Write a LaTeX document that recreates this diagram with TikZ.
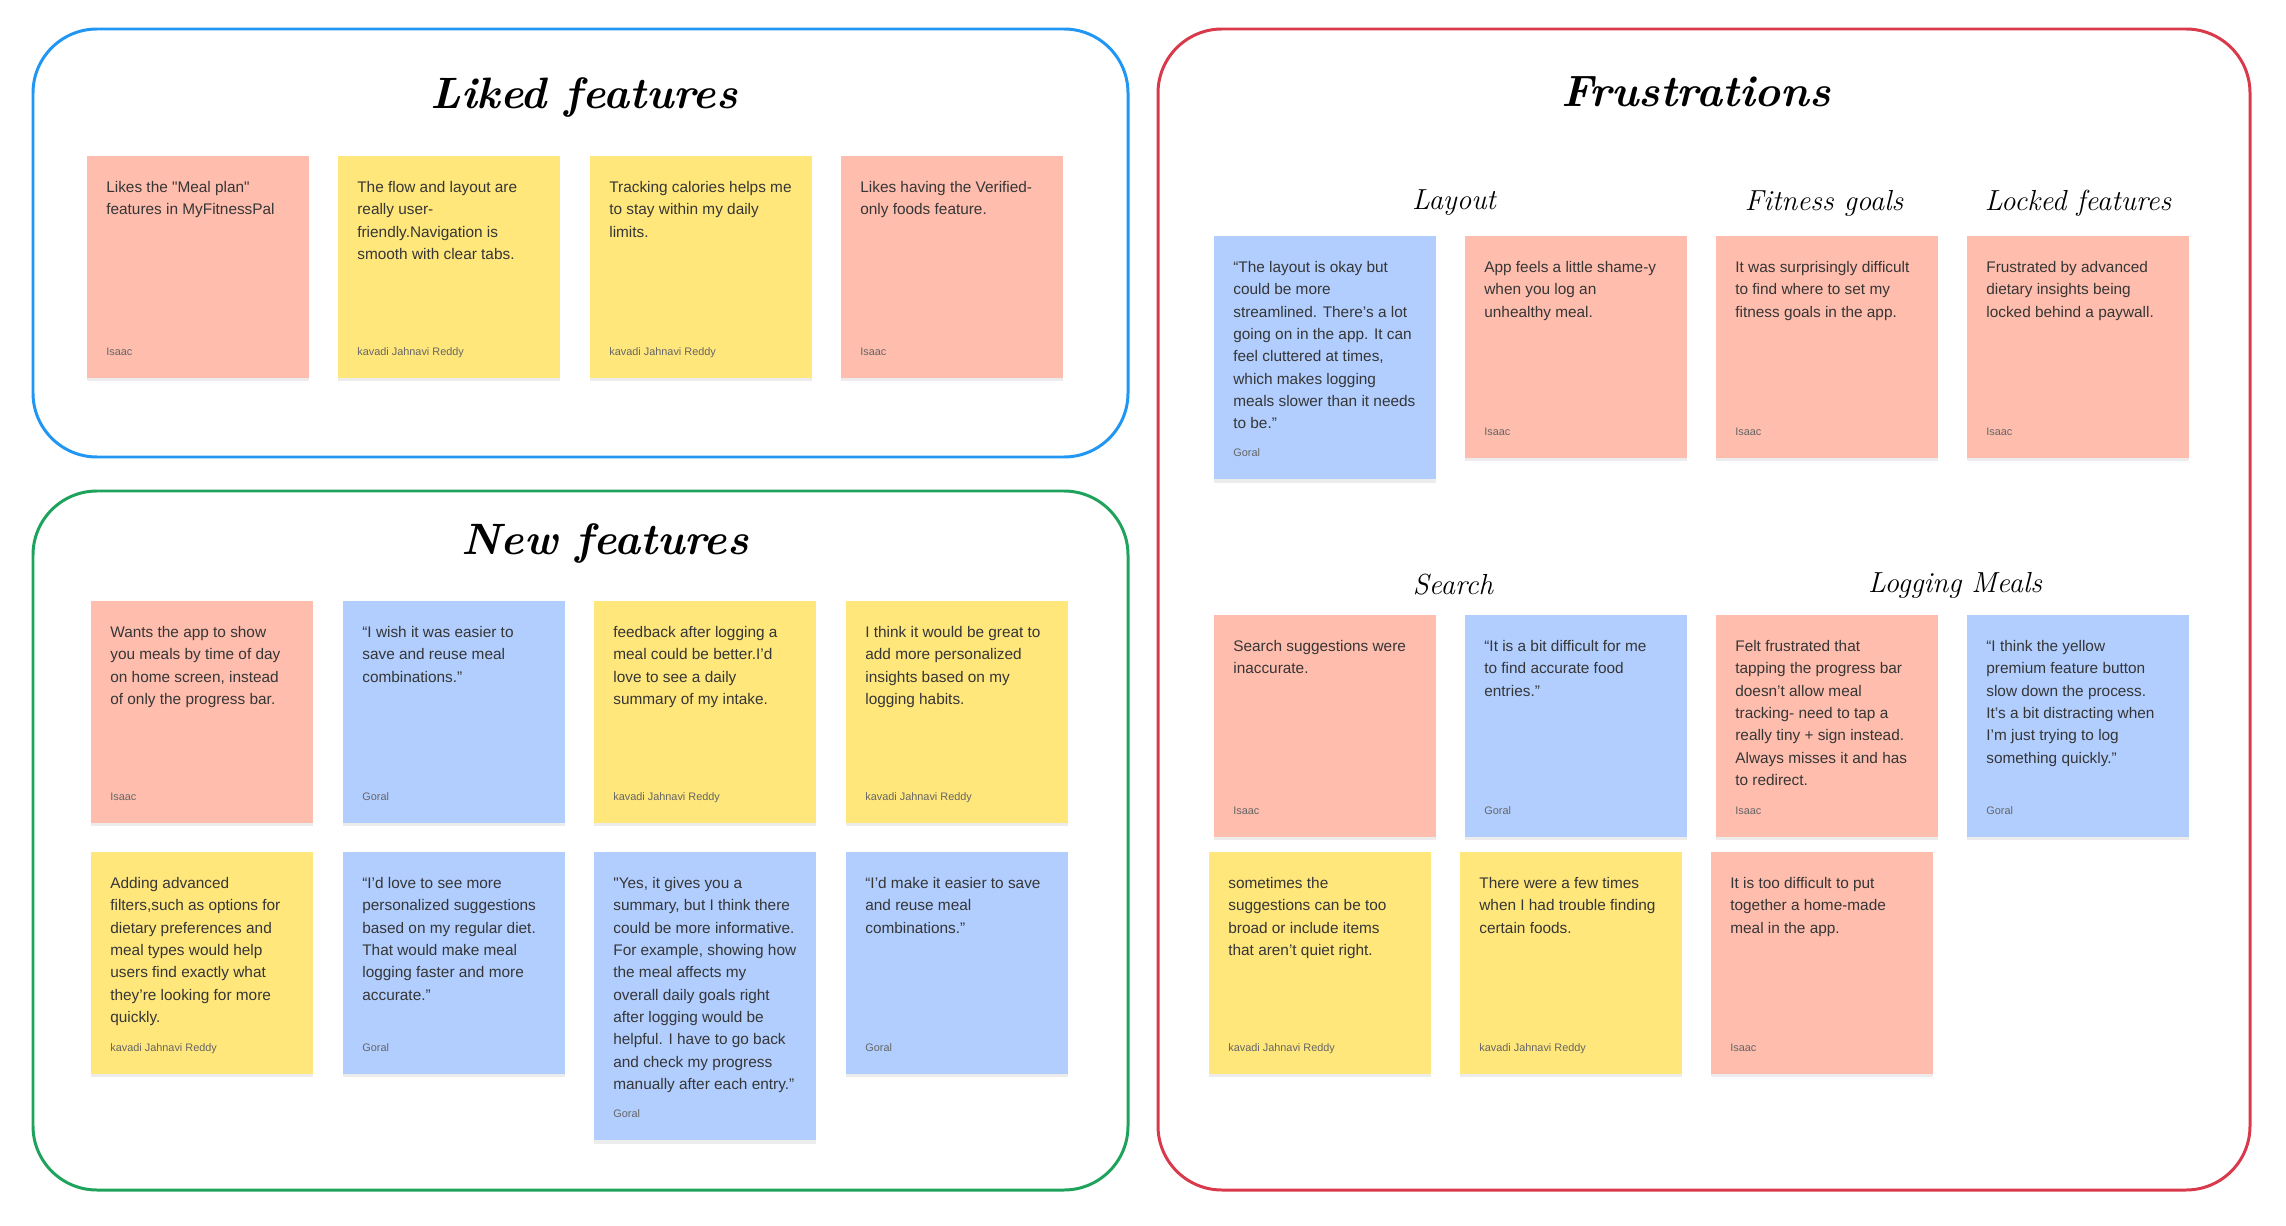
\documentclass[tikz,border=0pt]{standalone}
\usepackage{fontspec}
\newfontfamily\notefont{Liberation Sans}
\usetikzlibrary{calc}
\usetikzlibrary{shadows}
\definecolor{salmon}{HTML}{FFBDAD}
\definecolor{lemon}{HTML}{FFE77C}
\definecolor{sky}{HTML}{B1CEFF}
\definecolor{likedblue}{HTML}{2196F3}
\definecolor{newgreen}{HTML}{1FA35C}
\definecolor{frustred}{HTML}{D93A4B}
\definecolor{inkgrey}{HTML}{363636}
\tikzset{
	boardstyle/.style={rounded corners=1.28cm,line width=1.7pt},
	notestyle/.style={rectangle,anchor=north west,minimum width=4.44cm,minimum height=4.43cm,inner sep=0pt,drop shadow={shadow xshift=0pt,shadow yshift=-2pt,opacity=0.15}},
	textstyle/.style={anchor=north west,inner sep=0pt,align=left,text=inkgrey,font=\notefont\fontsize{8.75}{12.7}\selectfont},
	namestyle/.style={anchor=base west,inner sep=0pt,text=black!60,font=\notefont\fontsize{6.2}{7}\selectfont},
	titlestyle/.style={font=\fontsize{25}{30}\selectfont\bfseries\itshape},
	subtitlestyle/.style={font=\fontsize{16.5}{20}\selectfont\itshape}
}

\begin{document}
\begin{tikzpicture}[x=0.02cm,y=-0.02cm]
	\useasboundingbox (0,0) rectangle (2286,1226);
	% boards
	\draw[boardstyle,draw=likedblue] (33,29) rectangle (1128,457);
	\draw[boardstyle,draw=newgreen] (33,491) rectangle (1128,1190);
	\draw[boardstyle,draw=frustred] (1158,29) rectangle (2250,1190);
	\node[titlestyle] (liked) at (584,98) {Liked features};
	\node[titlestyle] (new) at (605,544) {New features};
	\node[titlestyle] (frust) at (1696,92) {Frustrations};
	\node[subtitlestyle] (layout) at (1454,203) {Layout};
	\node[subtitlestyle] (fitness) at (1824,203) {Fitness goals};
	\node[subtitlestyle] (locked) at (2078,203) {Locked features};
	\node[subtitlestyle] (search) at (1453,585) {Search};
	\node[subtitlestyle] (logging) at (1955,585) {Logging Meals};
	% liked features
	\node[notestyle,fill=salmon] (lk1) at (87,156) {};
	\node[notestyle,fill=lemon] (lk2) at (338,156) {};
	\node[notestyle,fill=lemon] (lk3) at (590,156) {};
	\node[notestyle,fill=salmon] (lk4) at (841,156) {};
	\node[textstyle] (lk1t) at ([shift={(19,25)}]lk1.north west) {Likes the "Meal plan"\\features in MyFitnessPal};
	\node[textstyle] (lk2t) at ([shift={(19,25)}]lk2.north west) {The flow and layout are\\really user-\\friendly.Navigation is\\smooth with clear tabs.};
	\node[textstyle] (lk3t) at ([shift={(19,25)}]lk3.north west) {Tracking calories helps me\\to stay within my daily\\limits.};
	\node[textstyle] (lk4t) at ([shift={(19,25)}]lk4.north west) {Likes having the Verified-\\only foods feature.};
	\node[namestyle] (lk1a) at ([shift={(19,-23)}]lk1.south west) {Isaac};
	\node[namestyle] (lk2a) at ([shift={(19,-23)}]lk2.south west) {kavadi Jahnavi Reddy};
	\node[namestyle] (lk3a) at ([shift={(19,-23)}]lk3.south west) {kavadi Jahnavi Reddy};
	\node[namestyle] (lk4a) at ([shift={(19,-23)}]lk4.south west) {Isaac};
	% new features
	\node[notestyle,fill=salmon] (nw1) at (91,601) {};
	\node[notestyle,fill=sky] (nw2) at (343,601) {};
	\node[notestyle,fill=lemon] (nw3) at (594,601) {};
	\node[notestyle,fill=lemon] (nw4) at (846,601) {};
	\node[notestyle,fill=lemon] (nw5) at (91,852) {};
	\node[notestyle,fill=sky] (nw6) at (343,852) {};
	\node[notestyle,fill=sky,minimum height=5.76cm] (nw7) at (594,852) {};
	\node[notestyle,fill=sky] (nw8) at (846,852) {};
	\node[textstyle] (nw1t) at ([shift={(19,25)}]nw1.north west) {Wants the app to show\\you meals by time of day\\on home screen, instead\\of only the progress bar.};
	\node[textstyle] (nw2t) at ([shift={(19,25)}]nw2.north west) {“I wish it was easier to\\save and reuse meal\\combinations.”};
	\node[textstyle] (nw3t) at ([shift={(19,25)}]nw3.north west) {feedback after logging a\\meal could be better.I’d\\love to see a daily\\summary of my intake.};
	\node[textstyle] (nw4t) at ([shift={(19,25)}]nw4.north west) {I think it would be great to\\add more personalized\\insights based on my\\logging habits.};
	\node[textstyle] (nw5t) at ([shift={(19,25)}]nw5.north west) {Adding advanced\\filters,such as options for\\dietary preferences and\\meal types would help\\users find exactly what\\they’re looking for more\\quickly.};
	\node[textstyle] (nw6t) at ([shift={(19,25)}]nw6.north west) {“I’d love to see more\\personalized suggestions\\based on my regular diet.\\That would make meal\\logging faster and more\\accurate.”};
	\node[textstyle] (nw7t) at ([shift={(19,25)}]nw7.north west) {"Yes, it gives you a\\summary, but I think there\\could be more informative.\\For example, showing how\\the meal affects my\\overall daily goals right\\after logging would be\\helpful. I have to go back\\and check my progress\\manually after each entry.”};
	\node[textstyle] (nw8t) at ([shift={(19,25)}]nw8.north west) {“I’d make it easier to save\\and reuse meal\\combinations.”};
	\node[namestyle] (nw1a) at ([shift={(19,-23)}]nw1.south west) {Isaac};
	\node[namestyle] (nw2a) at ([shift={(19,-23)}]nw2.south west) {Goral};
	\node[namestyle] (nw3a) at ([shift={(19,-23)}]nw3.south west) {kavadi Jahnavi Reddy};
	\node[namestyle] (nw4a) at ([shift={(19,-23)}]nw4.south west) {kavadi Jahnavi Reddy};
	\node[namestyle] (nw5a) at ([shift={(19,-23)}]nw5.south west) {kavadi Jahnavi Reddy};
	\node[namestyle] (nw6a) at ([shift={(19,-23)}]nw6.south west) {Goral};
	\node[namestyle] (nw7a) at ([shift={(19,-23)}]nw7.south west) {Goral};
	\node[namestyle] (nw8a) at ([shift={(19,-23)}]nw8.south west) {Goral};
	% frustrations
	\node[notestyle,fill=sky,minimum height=4.86cm] (fr1) at (1214,236) {};
	\node[notestyle,fill=salmon] (fr2) at (1465,236) {};
	\node[notestyle,fill=salmon] (fr3) at (1716,236) {};
	\node[notestyle,fill=salmon] (fr4) at (1967,236) {};
	\node[notestyle,fill=salmon] (fr5) at (1214,615) {};
	\node[notestyle,fill=sky] (fr6) at (1465,615) {};
	\node[notestyle,fill=salmon] (fr7) at (1716,615) {};
	\node[notestyle,fill=sky] (fr8) at (1967,615) {};
	\node[notestyle,fill=lemon] (fr9) at (1209,852) {};
	\node[notestyle,fill=lemon] (fr10) at (1460,852) {};
	\node[notestyle,fill=salmon] (fr11) at (1711,852) {};
	\node[textstyle] (fr1t) at ([shift={(19,25)}]fr1.north west) {“The layout is okay but\\could be more\\streamlined. There’s a lot\\going on in the app. It can\\feel cluttered at times,\\which makes logging\\meals slower than it needs\\to be.”};
	\node[textstyle] (fr2t) at ([shift={(19,25)}]fr2.north west) {App feels a little shame-y\\when you log an\\unhealthy meal.};
	\node[textstyle] (fr3t) at ([shift={(19,25)}]fr3.north west) {It was surprisingly difficult\\to find where to set my\\fitness goals in the app.};
	\node[textstyle] (fr4t) at ([shift={(19,25)}]fr4.north west) {Frustrated by advanced\\dietary insights being\\locked behind a paywall.};
	\node[textstyle] (fr5t) at ([shift={(19,25)}]fr5.north west) {Search suggestions were\\inaccurate.};
	\node[textstyle] (fr6t) at ([shift={(19,25)}]fr6.north west) {“It is a bit difficult for me\\to find accurate food\\entries.”};
	\node[textstyle] (fr7t) at ([shift={(19,25)}]fr7.north west) {Felt frustrated that\\tapping the progress bar\\doesn’t allow meal\\tracking- need to tap a\\really tiny + sign instead.\\Always misses it and has\\to redirect.};
	\node[textstyle] (fr8t) at ([shift={(19,25)}]fr8.north west) {“I think the yellow\\premium feature button\\slow down the process.\\It’s a bit distracting when\\I’m just trying to log\\something quickly.”};
	\node[textstyle] (fr9t) at ([shift={(19,25)}]fr9.north west) {sometimes the\\suggestions can be too\\broad or include items\\that aren’t quiet right.};
	\node[textstyle] (fr10t) at ([shift={(19,25)}]fr10.north west) {There were a few times\\when I had trouble finding\\certain foods.};
	\node[textstyle] (fr11t) at ([shift={(19,25)}]fr11.north west) {It is too difficult to put\\together a home-made\\meal in the app.};
	\node[namestyle] (fr1a) at ([shift={(19,-23)}]fr1.south west) {Goral};
	\node[namestyle] (fr2a) at ([shift={(19,-23)}]fr2.south west) {Isaac};
	\node[namestyle] (fr3a) at ([shift={(19,-23)}]fr3.south west) {Isaac};
	\node[namestyle] (fr4a) at ([shift={(19,-23)}]fr4.south west) {Isaac};
	\node[namestyle] (fr5a) at ([shift={(19,-23)}]fr5.south west) {Isaac};
	\node[namestyle] (fr6a) at ([shift={(19,-23)}]fr6.south west) {Goral};
	\node[namestyle] (fr7a) at ([shift={(19,-23)}]fr7.south west) {Isaac};
	\node[namestyle] (fr8a) at ([shift={(19,-23)}]fr8.south west) {Goral};
	\node[namestyle] (fr9a) at ([shift={(19,-23)}]fr9.south west) {kavadi Jahnavi Reddy};
	\node[namestyle] (fr10a) at ([shift={(19,-23)}]fr10.south west) {kavadi Jahnavi Reddy};
	\node[namestyle] (fr11a) at ([shift={(19,-23)}]fr11.south west) {Isaac};
\end{tikzpicture}
\end{document}
